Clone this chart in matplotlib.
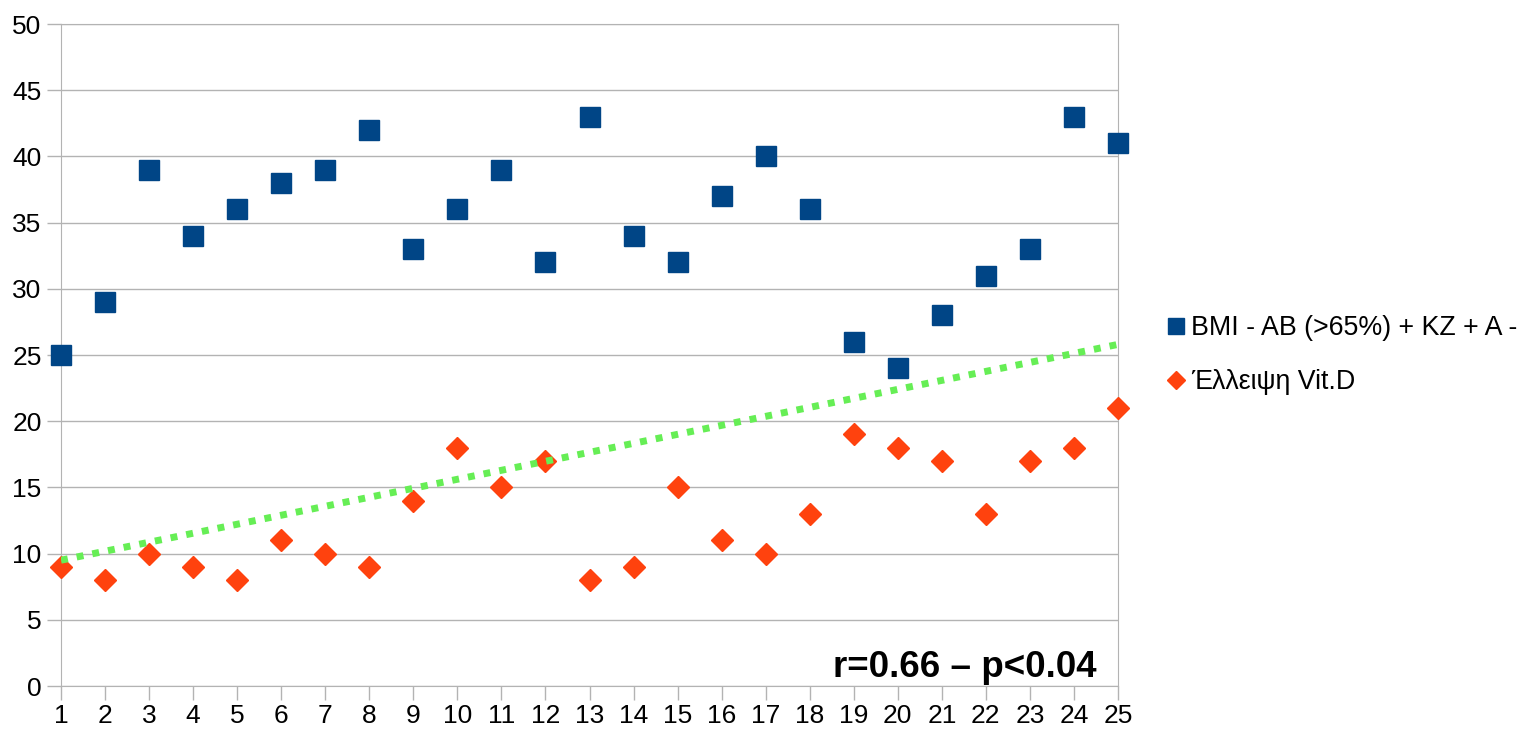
import matplotlib.pyplot as plt

plt.rcParams['font.family'] = ['Liberation Sans', 'DejaVu Sans']

x = list(range(1, 26))
bmi = [25, 29, 39, 34, 36, 38, 39, 42, 33, 36, 39, 32, 43, 34, 32, 37, 40, 36, 26, 24, 28, 31, 33, 43, 41]
vitd = [9, 8, 10, 9, 8, 11, 10, 9, 14, 18, 15, 17, 8, 9, 15, 11, 10, 13, 19, 18, 17, 13, 17, 18, 21]
trend_x = [1, 25]
trend_y = [9.5, 25.8]

labels = ['BMI - AB (>65%) + KZ + A -', 'Έλλειψη Vit.D']

fig = plt.figure(figsize=(15.21, 7.33), dpi=100)
ax = fig.add_axes([61 / 1521, 1 - 686 / 733, (1118 - 61) / 1521, (686 - 24) / 733])

grid_c = '#b3b3b3'
ax.plot(x, bmi, linestyle='none', marker='s', markersize=14.5, color='#004586',
        markeredgecolor='#004586', label=labels[0], zorder=3, clip_on=False)
ax.plot(x, vitd, linestyle='none', marker='D', markersize=11, color='#ff420e',
        markeredgecolor='#ff420e', label=labels[1], zorder=3, clip_on=False)
ax.plot(trend_x, trend_y, color='#66ee55', linewidth=5, linestyle=(0, (1, 1.3)),
        dash_capstyle='butt', zorder=4)

ax.set_xlim(1, 25)
ax.set_ylim(0, 50)
ax.set_xticks(x)
ax.set_yticks(range(0, 51, 5))
ax.yaxis.grid(True, color=grid_c, linewidth=1)
ax.set_axisbelow(True)
for s in ax.spines.values():
    s.set_color(grid_c)
ax.tick_params(axis='both', colors=grid_c, labelcolor='black', labelsize=19, length=10, width=1)
ax.tick_params(axis='y', pad=4)
ax.tick_params(axis='x', pad=3)

ax.text(1097, 733 - 677, 'r=0.66 – p<0.04', transform=None, ha='right', va='baseline',
        fontsize=26.5, fontweight='bold')

fig.legend(loc='center left', bbox_to_anchor=(1163 / 1521, 1 - 355 / 733), frameon=False,
           fontsize=19.3, labelspacing=1.05, handletextpad=0.05, handlelength=1.0,
           markerscale=0.8, borderpad=0, borderaxespad=0)

fig.savefig('out.png', dpi=100)
